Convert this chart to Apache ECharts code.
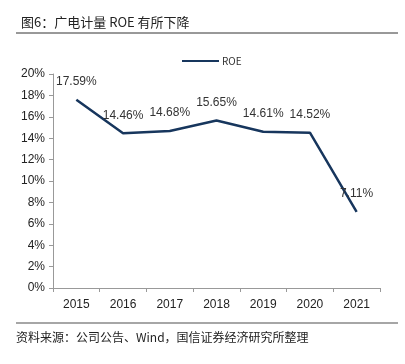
<!DOCTYPE html>
<html><head><meta charset="utf-8">
<script src="https://cdn.jsdelivr.net/npm/echarts@6/dist/echarts.min.js"></script>
<style>html,body{margin:0;padding:0;background:#fff}#c{width:405px;height:364px}</style>
</head><body><div id="c"></div>
<script>
var categories = ['2015','2016','2017','2018','2019','2020','2021'];
var roe = [17.59, 14.46, 14.68, 15.65, 14.61, 14.52, 7.11];
var yTicks = [0, 2, 4, 6, 8, 10, 12, 14, 16, 18, 20];
var chart = echarts.init(document.getElementById('c'));
chart.setOption({
  animation: false,
  title: {
    text: '图6：广电计量 ROE 有所下降',
    left: 16, top: 11,
    textStyle: {fontFamily: 'Noto Sans CJK SC', fontSize: 13, fontWeight: 'normal', color: '#222'}
  },
  legend: {
    data: ['ROE'], top: 51, left: 177,
    itemWidth: 37, itemHeight: 2, itemGap: 4,
    icon: 'rect',
    textStyle: {fontFamily: 'Noto Sans CJK SC', fontSize: 10, color: '#333', padding: [0,0,0,-2]}
  },
  grid: {left: 53, right: 25, top: 74, bottom: 76},
  xAxis: {
    type: 'category', data: categories, boundaryGap: true,
    axisLine: {lineStyle: {color: '#999', width: 1}},
    axisTick: {show: true, length: 4, lineStyle: {color: '#999'}},
    axisLabel: {color: '#222', fontFamily: 'Liberation Sans', fontSize: 12, margin: 11}
  },
  yAxis: {
    type: 'value', min: yTicks[0], max: yTicks[yTicks.length-1], interval: 2,
    axisLine: {show: true, lineStyle: {color: '#999', width: 1}},
    axisTick: {show: true, length: 4, lineStyle: {color: '#999'}},
    splitLine: {show: false},
    axisLabel: {color: '#222', fontFamily: 'Liberation Sans', fontSize: 12, margin: 8, formatter: '{value}%'}
  },
  series: [{
    name: 'ROE', type: 'line', data: roe,
    symbol: 'circle', symbolSize: 0, showSymbol: true,
    lineStyle: {color: '#17365D', width: 2.5},
    itemStyle: {color: '#17365D'},
    label: {show: true, position: 'top', distance: 12, color: '#333', fontFamily: 'Liberation Sans', fontSize: 12,
      formatter: function(p){ return p.value.toFixed(2) + '%'; }}
  }],
  graphic: [
    {type: 'line', shape: {x1: 16, y1: 33, x2: 398, y2: 33}, style: {stroke: '#333', lineWidth: 1}},
    {type: 'line', shape: {x1: 16, y1: 323, x2: 398, y2: 323}, style: {stroke: '#888', lineWidth: 1.5}},
    {type: 'text', left: 16, top: 331, style: {text: '资料来源：公司公告、Wind，国信证券经济研究所整理', font: '12px "Noto Sans CJK SC"', fill: '#222'}}
  ]
});
</script></body></html>
